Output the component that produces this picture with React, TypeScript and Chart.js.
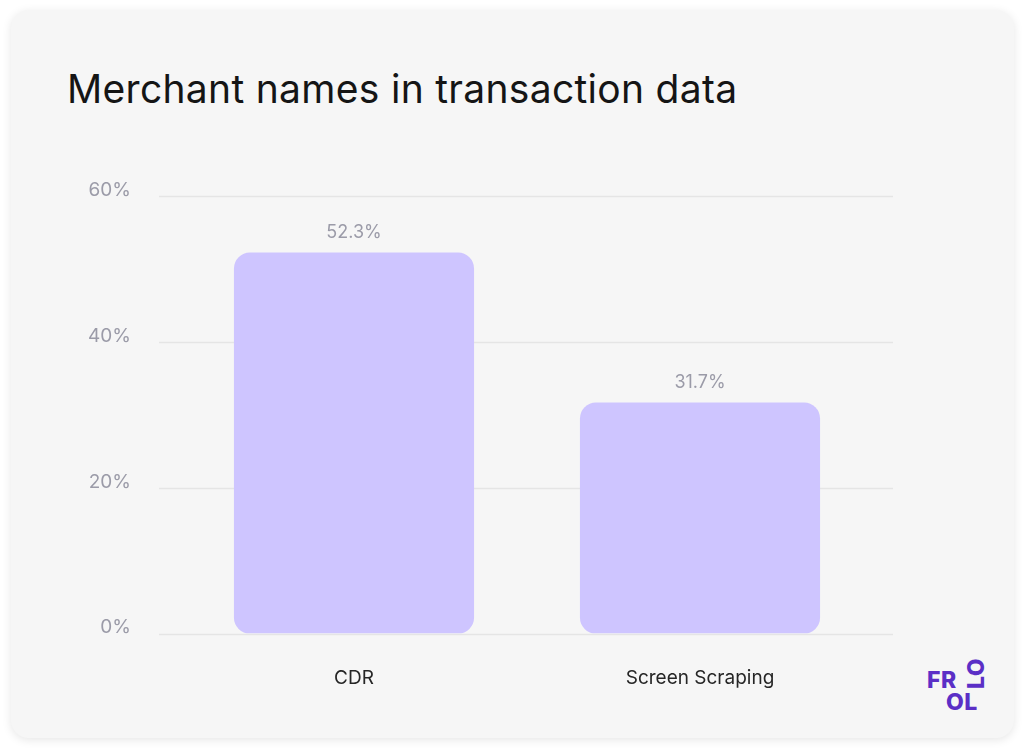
import React, { useEffect, useRef } from "react";
import { Chart, registerables } from "chart.js";

Chart.register(...registerables);

const categories = ["CDR", "Screen Scraping"];
const shareValues = [52.3, 31.7];
const yTickValues = [0, 20, 40, 60];

const FONT = "Inter, 'Noto Sans', sans-serif";
const BAR_COLOR = "#cec5ff";
const MUTED = "#9b9ba8";
const GRID = "#e5e5e5";
const BRAND = "#5b2fc6";

// Horizontal guide lines that run a little past the plot area on both sides.
const wideGridPlugin = {
  id: "wideGrid",
  beforeDatasetsDraw(chart: any) {
    const { ctx, chartArea, scales } = chart;
    const y = scales.y;
    ctx.save();
    ctx.strokeStyle = GRID;
    ctx.lineWidth = 1.5;
    for (const v of yTickValues) {
      const py = Math.round(y.getPixelForValue(v)) + 0.5;
      ctx.beginPath();
      ctx.moveTo(chartArea.left - 22, py);
      ctx.lineTo(chartArea.right + 20, py);
      ctx.stroke();
    }
    ctx.restore();
  },
};

// Percentage written above each bar.
const valueLabelPlugin = {
  id: "valueLabels",
  afterDatasetsDraw(chart: any) {
    const { ctx } = chart;
    const meta = chart.getDatasetMeta(0);
    ctx.save();
    ctx.font = `400 18px ${FONT}`;
    ctx.fillStyle = MUTED;
    ctx.textAlign = "center";
    ctx.textBaseline = "alphabetic";
    meta.data.forEach((bar: any, i: number) => {
      ctx.fillText(`${shareValues[i]}%`, bar.x, bar.y - 15);
    });
    ctx.restore();
  },
};

function MerchantChart() {
  const canvasRef = useRef<HTMLCanvasElement | null>(null);

  useEffect(() => {
    if (!canvasRef.current) return;
    const chart = new Chart(canvasRef.current, {
      type: "bar",
      data: {
        labels: categories,
        datasets: [
          {
            data: shareValues,
            backgroundColor: BAR_COLOR,
            borderRadius: 16,
            borderSkipped: false,
            barPercentage: 0.694,
            categoryPercentage: 1,
          },
        ],
      },
      options: {
        animation: false,
        responsive: false,
        maintainAspectRatio: false,
        layout: { padding: { left: 0, right: 37, top: 31, bottom: 0 } },
        plugins: {
          legend: { display: false },
          tooltip: { enabled: false },
          title: { display: false },
        },
        scales: {
          x: {
            grid: { display: false, drawTicks: false },
            border: { display: false },
            ticks: {
              color: "#262626",
              font: { family: FONT, size: 19, weight: "400" as any },
              padding: 33,
            },
            afterFit(scale: any) {
              scale.height = 60;
            },
          },
          y: {
            min: 0,
            max: 60,
            grid: { display: false, drawTicks: false },
            border: { display: false },
            ticks: {
              stepSize: 20,
              color: MUTED,
              padding: 50,
              labelOffset: -6,
              font: { family: FONT, size: 19, weight: "400" as any },
              callback: (v: any) => `${v}%`,
            },
            afterFit(scale: any) {
              scale.width = 121;
            },
          },
        },
      },
      plugins: [wideGridPlugin, valueLabelPlugin],
    });
    return () => chart.destroy();
  }, []);

  return (
    <canvas
      ref={canvasRef}
      width={850}
      height={560}
      style={{ position: "absolute", left: 60, top: 135, width: 850, height: 560 }}
    />
  );
}

function BrandMark() {
  const letter: React.CSSProperties = {
    position: "absolute",
    fontFamily: FONT,
    fontWeight: 800,
    fontSize: 23,
    lineHeight: "23px",
    color: BRAND,
    letterSpacing: 0.5,
    whiteSpace: "nowrap",
  };
  return (
    <div style={{ position: "absolute", left: 0, top: 0 }}>
      <div style={{ ...letter, left: 927, top: 669 }}>FR</div>
      <div style={{ ...letter, left: 946, top: 691 }}>OL</div>
      <div
        style={{
          ...letter,
          left: 965,
          top: 0,
          transformOrigin: "0 0",
          transform: "translate(0px, 689px) rotate(-90deg)",
        }}
      >
        LO
      </div>
    </div>
  );
}

export default function App() {
  return (
    <div
      style={{
        position: "fixed",
        left: 0,
        top: 0,
        width: 1024,
        height: 750,
        background: "#ffffff",
        overflow: "hidden",
      }}
    >
      <div
        style={{
          position: "absolute",
          left: 11,
          top: 10,
          width: 1003,
          height: 728,
          borderRadius: 18,
          background: "#f6f6f6",
          boxShadow: "0 2px 10px rgba(0,0,0,0.10)",
        }}
      />
      <div
        style={{
          position: "absolute",
          left: 67,
          top: 69,
          fontFamily: FONT,
          fontSize: 39,
          lineHeight: "39px",
          fontWeight: 400,
          color: "#151515",
          letterSpacing: 0.3,
          whiteSpace: "nowrap",
        }}
      >
        Merchant names in transaction data
      </div>
      <MerchantChart />
      <BrandMark />
    </div>
  );
}
